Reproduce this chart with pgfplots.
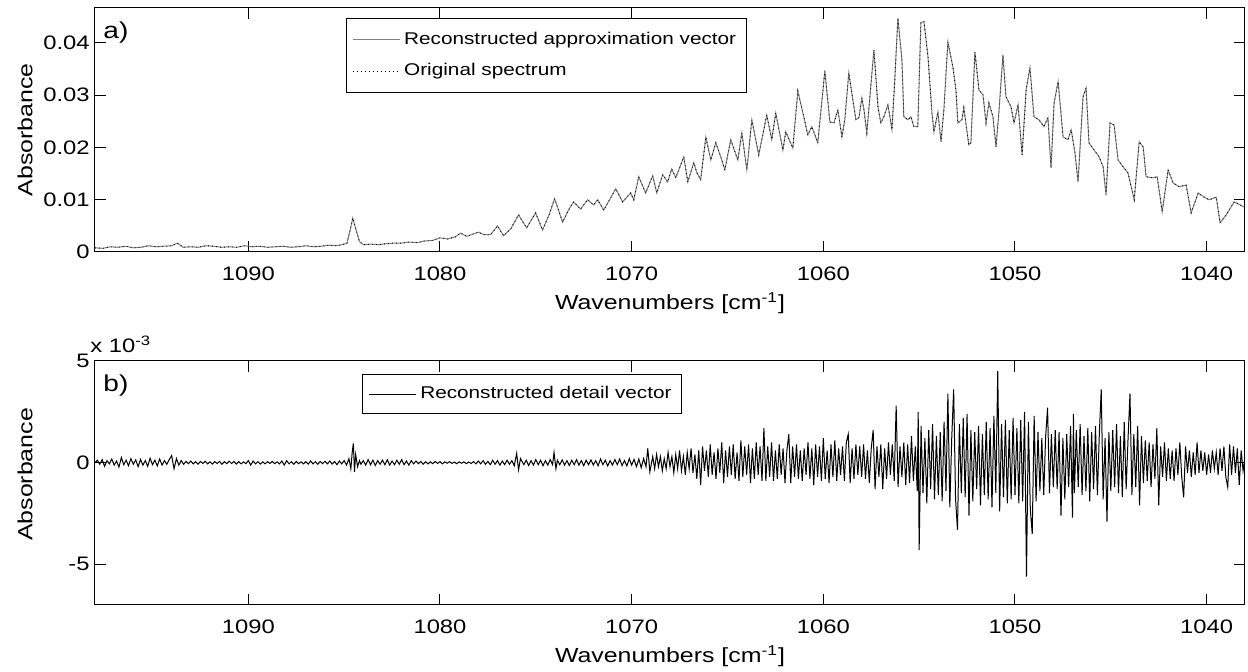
\documentclass[border=0pt]{standalone}
\usepackage{fontspec}
\setmainfont{Liberation Sans}[FakeStretch=1.22]
\usepackage{pgfplots}
\pgfplotsset{compat=1.18}
\usepackage{pgfplotstable}

% absorbance spectrum, read off panel a)
\pgfplotstableread{
w A
1098.0 0.0008
1097.6 0.0007
1097.2 0.0010
1096.8 0.0009
1096.4 0.0011
1096.0 0.0008
1095.6 0.0009
1095.2 0.0012
1094.8 0.0010
1094.4 0.0011
1094.0 0.0012
1093.7 0.0017
1093.4 0.0009
1093.0 0.0010
1092.6 0.0009
1092.2 0.0012
1091.8 0.0011
1091.4 0.0009
1091.0 0.0010
1090.6 0.0009
1090.2 0.0012
1089.8 0.0010
1089.4 0.0011
1089.0 0.0009
1088.6 0.0010
1088.2 0.0011
1087.8 0.0009
1087.4 0.0010
1087.0 0.0012
1086.6 0.0010
1086.2 0.0011
1085.8 0.0013
1085.4 0.0012
1085.1 0.0014
1084.85 0.0017
1084.7 0.0040
1084.55 0.0065
1084.4 0.0045
1084.2 0.0020
1084.0 0.0014
1083.6 0.0015
1083.2 0.0014
1082.8 0.0016
1082.4 0.0017
1082.0 0.0017
1081.6 0.0019
1081.2 0.0018
1080.8 0.0021
1080.4 0.0022
1080.0 0.0027
1079.6 0.0025
1079.2 0.0029
1078.93 0.0036
1078.6 0.0030
1078.3 0.0034
1077.99 0.0038
1077.7 0.0033
1077.36 0.0033
1077.00 0.0050
1076.68 0.0031
1076.3 0.0045
1075.90 0.0071
1075.48 0.0046
1075.01 0.0075
1074.65 0.0042
1074.3 0.0072
1074.02 0.0102
1073.60 0.0057
1073.3 0.0080
1073.03 0.0096
1072.66 0.0082
1072.30 0.0100
1071.98 0.0090
1071.77 0.0100
1071.46 0.0080
1070.83 0.0121
1070.47 0.0096
1070.05 0.0113
1069.89 0.0100
1069.63 0.0144
1069.27 0.0113
1068.90 0.0146
1068.69 0.0113
1068.38 0.0148
1068.12 0.0134
1067.91 0.0159
1067.70 0.0142
1067.28 0.0182
1067.07 0.0134
1066.76 0.0171
1066.61 0.0153
1066.40 0.0138
1066.13 0.0220
1065.87 0.0176
1065.61 0.0209
1065.35 0.0182
1065.14 0.0157
1064.83 0.0215
1064.46 0.0176
1064.25 0.0228
1063.99 0.0157
1063.73 0.0253
1063.37 0.0186
1062.95 0.0262
1062.69 0.0215
1062.48 0.0266
1062.11 0.0195
1061.96 0.0230
1061.59 0.0199
1061.33 0.0308
1061.02 0.0259
1060.81 0.0224
1060.60 0.0240
1060.29 0.0209
1059.92 0.0347
1059.66 0.0249
1059.45 0.0247
1059.24 0.0272
1059.03 0.0220
1058.88 0.0253
1058.67 0.0343
1058.46 0.0291
1058.30 0.0253
1058.14 0.0257
1057.99 0.0295
1057.88 0.0272
1057.73 0.0228
1057.57 0.0297
1057.36 0.0387
1057.15 0.0278
1057.00 0.0247
1056.84 0.0259
1056.63 0.0282
1056.42 0.0234
1056.27 0.0330
1056.11 0.0448
1055.90 0.0368
1055.80 0.0259
1055.59 0.0253
1055.43 0.0259
1055.28 0.0240
1055.07 0.0240
1054.91 0.0439
1054.75 0.0441
1054.54 0.0374
1054.33 0.0266
1054.23 0.0230
1054.02 0.0268
1053.86 0.0211
1053.71 0.0272
1053.50 0.0402
1053.24 0.0354
1053.08 0.0310
1052.98 0.0247
1052.77 0.0253
1052.67 0.0276
1052.41 0.0205
1052.30 0.0209
1052.09 0.0383
1051.88 0.0310
1051.67 0.0301
1051.51 0.0247
1051.36 0.0285
1051.15 0.0259
1050.99 0.0201
1050.83 0.0272
1050.63 0.0377
1050.47 0.0297
1050.21 0.0278
1050.05 0.0247
1049.84 0.0282
1049.63 0.0186
1049.42 0.0310
1049.22 0.0353
1049.01 0.0259
1048.75 0.0253
1048.49 0.0240
1048.28 0.0257
1048.12 0.0161
1047.96 0.0285
1047.75 0.0326
1047.49 0.0220
1047.23 0.0215
1047.07 0.0234
1046.87 0.0190
1046.71 0.0134
1046.45 0.0297
1046.29 0.0314
1046.14 0.0209
1045.87 0.0195
1045.61 0.0182
1045.40 0.0163
1045.25 0.0109
1045.04 0.0247
1044.83 0.0243
1044.62 0.0176
1044.36 0.0163
1044.10 0.0151
1043.78 0.0100
1043.52 0.0211
1043.31 0.0201
1043.16 0.0144
1042.79 0.0142
1042.58 0.0144
1042.32 0.0077
1042.01 0.0157
1041.75 0.0132
1041.43 0.0125
1041.07 0.0128
1040.81 0.0075
1040.44 0.0113
1040.13 0.0105
1039.87 0.0100
1039.50 0.0105
1039.30 0.0056
1038.98 0.0071
1038.56 0.0096
1038.04 0.0086
}\spectrum

% reconstructed detail vector, read off panel b)
\pgfplotstableread{
w D
1098.000 0.0000
1097.875 0.00012
1097.750 -0.00008
1097.625 0.00015
1097.500 -0.00018
1097.375 0.0001
1097.250 -0.00006
1097.125 0.00018
1097.000 -0.00012
1096.875 0.00008
1096.750 -0.00022
1096.625 0.00025
1096.500 -0.0001
1096.375 0.00012
1096.250 -0.00015
1096.125 0.0002
1096.000 -0.00008
1095.875 0.00014
1095.750 -0.0002
1095.625 0.00016
1095.500 -0.00012
1095.375 0.0001
1095.250 -0.00018
1095.125 0.00022
1095.000 -0.0001
1094.875 0.00012
1094.750 -0.00016
1094.625 0.00018
1094.500 -0.00012
1094.375 0.0001
1094.250 -0.00008
1094.125 0.00015
1094.000 0.00035
1093.875 -0.0003
1093.750 0.0002
1093.625 -0.00012
1093.500 0.0001
1093.375 -0.00008
1093.250 0.00006
1093.125 -0.00005
1093.000 0.00008
1092.875 -0.00006
1092.750 0.00005
1092.625 -0.00008
1092.500 0.00006
1092.375 -0.00004
1092.250 0.00007
1092.125 -0.00006
1092.000 0.00004
1091.875 -0.00007
1091.750 0.00005
1091.625 -0.00004
1091.500 0.00006
1091.375 -0.00008
1091.250 0.00005
1091.125 -0.00005
1091.000 0.00007
1090.875 -0.00004
1090.750 0.00006
1090.625 -0.00007
1090.500 0.00005
1090.375 -0.00006
1090.250 0.00004
1090.125 -0.00005
1090.000 0.0001
1089.875 -0.00012
1089.750 0.00008
1089.625 -0.00006
1089.500 0.00005
1089.375 -0.00007
1089.250 0.00004
1089.125 -0.00006
1089.000 0.00005
1088.875 -0.00004
1088.750 0.00006
1088.625 -0.00005
1088.500 0.00004
1088.375 -0.00006
1088.250 0.00008
1088.125 -0.00012
1088.000 0.0001
1087.875 -0.00006
1087.750 0.00005
1087.625 -0.00008
1087.500 0.00006
1087.375 -0.00005
1087.250 0.00004
1087.125 -0.00006
1087.000 0.00005
1086.875 -0.00007
1086.750 0.00008
1086.625 -0.00006
1086.500 0.00005
1086.375 -0.00008
1086.250 0.00006
1086.125 -0.00005
1086.000 0.00007
1085.875 -0.00006
1085.750 0.00008
1085.625 -0.00007
1085.500 0.00006
1085.375 -0.0001
1085.250 0.00008
1085.125 -0.00006
1085.000 0.0001
1084.875 -0.00012
1084.750 0.0002
1084.650 -0.0003
1084.580 0.0005
1084.520 0.00095
1084.460 -0.00045
1084.400 0.0004
1084.300 -0.0002
1084.200 0.0001
1084.125 -0.00008
1084.000 0.0001
1083.875 -0.00012
1083.750 0.00015
1083.625 -0.0001
1083.500 0.00012
1083.375 -0.00014
1083.250 0.0001
1083.125 -0.00008
1083.000 0.00012
1082.875 -0.0001
1082.750 0.00014
1082.625 -0.00012
1082.500 0.00008
1082.375 -0.0001
1082.250 0.00012
1082.125 -0.00008
1082.000 0.00015
1081.875 -0.0001
1081.750 0.00008
1081.625 -0.00012
1081.500 0.0001
1081.375 -0.00006
1081.250 0.00008
1081.125 -0.00005
1081.000 0.00006
1080.875 -0.00008
1080.750 0.00005
1080.625 -0.00006
1080.500 0.00004
1080.375 -0.00005
1080.250 0.00006
1080.125 -0.00004
1080.000 0.00005
1079.875 -0.00006
1079.750 0.00004
1079.625 -0.00003
1079.500 0.00005
1079.375 -0.00004
1079.250 0.00003
1079.125 -0.00005
1079.000 0.00004
1078.875 -0.00003
1078.750 0.00004
1078.625 -0.00005
1078.500 0.00003
1078.375 -0.00004
1078.250 0.00005
1078.125 -0.00006
1078.000 0.00008
1077.875 -0.00006
1077.750 0.0001
1077.625 -0.00008
1077.500 0.00006
1077.375 -0.0001
1077.250 0.00012
1077.125 -0.00008
1077.000 0.0001
1076.875 -0.00012
1076.750 0.00008
1076.625 -0.0001
1076.500 0.00012
1076.375 -0.00008
1076.250 0.0001
1076.125 -0.00015
1076.000 0.00045
1075.900 -0.00035
1075.800 0.0002
1075.625 -0.0001
1075.500 0.00012
1075.375 -0.00014
1075.250 0.0001
1075.125 -0.00012
1075.000 0.00015
1074.875 -0.0001
1074.750 0.00012
1074.625 -0.00015
1074.500 0.0001
1074.375 -0.00012
1074.250 0.00015
1074.125 -0.0001
1074.050 0.0005
1073.950 -0.0003
1073.875 0.00012
1073.750 -0.0001
1073.625 0.00014
1073.500 -0.00012
1073.375 0.0001
1073.250 -0.00014
1073.125 0.00012
1073.000 -0.0001
1072.875 0.00015
1072.750 -0.00012
1072.625 0.0001
1072.500 -0.00015
1072.375 0.00012
1072.250 -0.0001
1072.125 0.00014
1072.000 -0.00012
1071.875 0.0001
1071.750 -0.00015
1071.625 0.00018
1071.500 -0.0001
1071.375 0.00012
1071.250 -0.00016
1071.125 0.0001
1071.000 -0.00012
1070.875 0.00015
1070.750 -0.0001
1070.625 0.00018
1070.500 -0.00014
1070.375 0.0001
1070.250 -0.00016
1070.125 0.0002
1070.000 -0.00012
1069.875 0.00016
1069.750 -0.0002
1069.625 0.00018
1069.500 -0.00025
1069.375 0.0002
1069.250 -0.0002
1069.160 0.0007
1069.050 -0.00045
1068.900 0.0003
1068.8 -0.0003
1068.7 0.0004
1068.6 -0.0002
1068.5 0.0003
1068.4 -0.0004
1068.3 0.0002
1068.2 -0.0003
1068.1 0.0005
1068.0 -0.0002
1067.9 0.0003
1067.8 -0.0005
1067.7 0.0004
1067.6 -0.0003
1067.5 0.0006
1067.4 -0.0004
1067.3 0.0003
1067.2 -0.0006
1067.1 0.0005
1067.0 -0.0003
1066.9 0.0007
1066.8 -0.0005
1066.7 0.0004
1066.6 -0.0008
1066.5 0.0006
1066.4 -0.0011
1066.3 0.0008
1066.2 -0.0004
1066.1 0.0006
1066.0 -0.0007
1065.9 0.0009
1065.8 -0.0006
1065.7 0.0005
1065.6 -0.0008
1065.5 0.0007
1065.4 -0.0005
1065.3 0.0010
1065.2 -0.0010
1065.1 0.0006
1065.0 -0.0007
1064.9 0.0008
1064.8 -0.0006
1064.7 0.0009
1064.6 -0.0008
1064.5 0.0005
1064.4 -0.0009
1064.3 0.0011
1064.2 -0.0007
1064.1 0.0008
1064.0 -0.0006
1063.9 0.0009
1063.8 -0.0010
1063.7 0.0007
1063.6 -0.0008
1063.5 0.0010
1063.4 -0.0006
1063.3 0.0008
1063.2 -0.0009
1063.1 0.0017
1063.0 -0.0009
1062.9 0.0008
1062.8 -0.0007
1062.7 0.0010
1062.6 -0.0009
1062.5 0.0006
1062.4 -0.0008
1062.3 0.0009
1062.2 -0.0006
1062.1 0.0007
1062.0 -0.0010
1061.9 0.0006
1061.8 0.0014
1061.7 -0.0010
1061.6 0.0008
1061.5 -0.0007
1061.4 0.0009
1061.3 -0.0008
1061.2 0.0006
1061.1 -0.0009
1061.0 0.0007
1060.9 -0.0006
1060.8 0.0010
1060.7 -0.0008
1060.6 0.0007
1060.5 -0.0011
1060.4 0.0009
1060.3 -0.0007
1060.2 0.0008
1060.1 -0.0009
1060.0 0.0012
1059.9 -0.0008
1059.8 0.0006
1059.7 -0.0010
1059.6 0.0009
1059.5 -0.0007
1059.4 0.0011
1059.3 -0.0009
1059.2 0.0007
1059.1 -0.0006
1059.0 0.0008
1058.9 -0.0009
1058.8 0.0010
1058.7 0.0014
1058.6 -0.0010
1058.5 0.0007
1058.4 -0.0008
1058.3 0.0009
1058.2 -0.0006
1058.1 0.0008
1058.0 -0.0007
1057.9 0.0009
1057.8 -0.0008
1057.7 0.0006
1057.6 -0.0010
1057.5 0.0007
1057.4 0.0016
1057.3 -0.0013
1057.2 0.0008
1057.1 -0.0007
1057.0 0.0009
1056.9 -0.0013
1056.8 0.0007
1056.7 -0.0008
1056.6 0.0010
1056.5 -0.0006
1056.4 0.0009
1056.3 -0.0009
1056.2 0.0028
1056.1 -0.0012
1056.0 0.0008
1055.9 -0.0007
1055.8 0.0010
1055.7 -0.0011
1055.6 0.0009
1055.5 -0.0010
1055.4 0.0013
1055.3 -0.0009
1055.2 0.0008
1055.1 -0.0014
1055.05 0.0025
1055.0 -0.0043
1054.9 0.0018
1054.8 -0.0015
1054.7 0.0012
1054.6 -0.0020
1054.5 0.0016
1054.4 -0.0013
1054.3 0.0019
1054.2 -0.0018
1054.1 0.0013
1054.0 -0.0016
1053.9 0.0015
1053.8 -0.0019
1053.7 0.0020
1053.6 -0.0014
1053.5 0.0034
1053.4 -0.0022
1053.3 0.0012
1053.2 0.0036
1053.1 -0.0018
1053.0 -0.0033
1052.9 0.0019
1052.8 -0.0015
1052.7 0.0022
1052.6 -0.0017
1052.5 0.0024
1052.4 -0.0026
1052.3 0.0016
1052.2 -0.0019
1052.1 0.0015
1052.0 -0.0013
1051.9 0.0018
1051.8 -0.0021
1051.7 0.0014
1051.6 -0.0016
1051.5 0.0020
1051.4 -0.0018
1051.3 0.0017
1051.2 -0.0022
1051.1 0.0023
1051.0 -0.0015
1050.9 0.0045
1050.8 -0.0024
1050.7 0.0019
1050.6 -0.0017
1050.5 0.0021
1050.4 -0.0020
1050.3 0.0016
1050.2 -0.0018
1050.1 0.0022
1050.0 -0.0016
1049.9 0.0017
1049.8 -0.0020
1049.7 0.0021
1049.6 -0.0019
1049.5 0.0025
1049.4 -0.0056
1049.3 0.0020
1049.2 -0.0023
1049.1 -0.0035
1049.0 0.0023
1048.9 -0.0019
1048.8 0.0015
1048.7 -0.0014
1048.6 0.0012
1048.5 -0.0016
1048.4 0.0013
1048.3 0.0027
1048.2 -0.0015
1048.1 0.0014
1048.0 -0.0012
1047.9 0.0016
1047.8 -0.0013
1047.7 0.0015
1047.6 -0.0026
1047.5 0.0012
1047.4 -0.0018
1047.3 0.0014
1047.2 -0.0012
1047.1 0.0018
1047.0 -0.0027
1046.95 0.0024
1046.9 -0.0015
1046.8 0.0016
1046.7 -0.0012
1046.6 0.0019
1046.5 -0.0016
1046.4 0.0013
1046.3 -0.0014
1046.2 0.0017
1046.1 -0.0019
1046.0 0.0015
1045.9 -0.0013
1045.8 0.0018
1045.7 -0.0016
1045.6 0.0014
1045.5 0.0036
1045.4 -0.0018
1045.3 0.0012
1045.2 -0.0029
1045.1 0.0015
1045.0 -0.0014
1044.9 0.0016
1044.8 -0.0012
1044.7 0.0019
1044.6 -0.0015
1044.5 0.0013
1044.4 -0.0017
1044.3 0.0020
1044.2 -0.0013
1044.1 0.0012
1044.0 0.0034
1043.9 -0.0016
1043.8 0.0014
1043.7 -0.0012
1043.6 0.0018
1043.5 -0.0021
1043.4 0.0013
1043.3 -0.0010
1043.2 0.0011
1043.1 -0.0009
1043.0 0.0010
1042.9 -0.0012
1042.8 0.0009
1042.7 -0.0008
1042.6 0.0017
1042.5 -0.0021
1042.4 0.0008
1042.3 -0.0007
1042.2 0.0010
1042.1 -0.0009
1042.0 0.0007
1041.9 -0.0008
1041.8 0.0006
1041.7 -0.0009
1041.6 0.0007
1041.5 -0.0006
1041.4 0.0010
1041.3 -0.0007
1041.2 -0.0017
1041.1 0.0008
1041.0 -0.0005
1040.9 0.0006
1040.8 -0.0007
1040.7 0.0005
1040.6 -0.0006
1040.5 0.0010
1040.4 -0.0005
1040.3 0.0006
1040.2 -0.0004
1040.1 0.0005
1040.0 -0.0006
1039.9 0.0004
1039.8 -0.0005
1039.7 0.0006
1039.6 -0.0003
1039.5 0.0005
1039.4 -0.0006
1039.3 0.0007
1039.2 -0.0004
1039.1 0.0008
1039.0 -0.0007
1038.9 -0.0012
1038.8 0.0009
1038.7 -0.0006
1038.6 0.0008
1038.5 -0.0005
1038.4 0.0007
1038.3 -0.0011
1038.2 0.0006
1038.1 -0.0004
1038.0 0.0003
}\detail

\definecolor{approxgray}{rgb}{0.5,0.5,0.5}
\newcommand{\labelfont}{\fontsize{10.2pt}{12pt}\selectfont}
\newcommand{\legendfont}{\fontsize{8.5pt}{10pt}\selectfont}
\newcommand{\panelfont}{\fontsize{11.5pt}{13pt}\selectfont}

\pgfplotsset{
  panel/.style={
    scale only axis, width=575pt, height=122pt,
    x dir=reverse, xmin=1038, xmax=1098,
    xtick={1040,1050,1060,1070,1080,1090},
    tick align=inside, major tick length=5.5pt,
    axis line style={line width=0.5pt},
    every tick/.style={black, line width=0.5pt},
    /pgf/number format/assume math mode=true,
    /pgf/number format/set thousands separator={},
    xticklabel style={anchor=base, inner sep=0pt, yshift=-14.5pt},
    yticklabel style={anchor=east, inner sep=0pt, xshift=-2.5pt},
    xlabel={Wavenumbers [cm\textsuperscript{-1}]},
    xlabel style={at={(rel axis cs:0.5,0)}, anchor=base, inner sep=0pt, yshift=-29pt, font=\labelfont},
    ylabel={Absorbance},
    legend cell align=left,
    legend image code/.code={\draw[##1] (0pt,0pt) -- (23.5pt,0pt);},
  },
}

\begin{document}
\begin{tikzpicture}[font=\fontsize{9.75pt}{11.5pt}\selectfont]
\useasboundingbox (-47.5pt,-210pt) rectangle (576.5pt,126pt);

\begin{axis}[panel,
  ymin=0, ymax=0.0467,
  ytick={0,0.01,0.02,0.03,0.04},
  scaled y ticks=false,
  yticklabel style={/pgf/number format/fixed, /pgf/number format/precision=2},
  ylabel style={at={(rel axis cs:-0.0539,0.5)}, anchor=south, inner sep=0pt, font=\labelfont},
  legend style={at={(rel axis cs:0.218,0.959)}, anchor=north west,
    draw=black, line width=0.5pt, fill=white, inner xsep=3pt, inner ysep=4.75pt,
    nodes={inner sep=2pt}, row sep=4pt, font=\legendfont},
]
\addplot[approxgray, line width=0.5pt] table[x=w, y=A] {\spectrum};
\addlegendentry{Reconstructed approximation vector}
\addplot[black, line width=0.45pt, dash pattern=on 0.4pt off 1.6pt] table[x=w, y=A] {\spectrum};
\addlegendentry{Original spectrum}
\node[anchor=north west, inner sep=0pt, font=\panelfont] at (rel axis cs:0.007,0.945) {a)};
\end{axis}

\begin{axis}[panel, at={(0pt,-176.5pt)},
  ymin=-0.007, ymax=0.005,
  ytick={-0.005,0,0.005},
  scaled y ticks=base 10:3,
  ytick scale label code/.code={x 10\textsuperscript{#1}},
  every y tick scale label/.style={at={(rel axis cs:0,1)}, anchor=south west, inner sep=0pt, yshift=4pt},
  ylabel style={at={(rel axis cs:-0.0539,0.535)}, anchor=south, inner sep=0pt, font=\labelfont},
  legend style={at={(rel axis cs:0.232,0.947)}, anchor=north west,
    draw=black, line width=0.5pt, fill=white, inner xsep=3pt, inner ysep=4pt,
    nodes={inner sep=2pt}, font=\legendfont},
]
\addplot[black, line width=0.5pt] table[x=w, y=D] {\detail};
\addlegendentry{Reconstructed detail vector}
\node[anchor=north west, inner sep=0pt, font=\panelfont] at (rel axis cs:0.007,0.945) {b)};
\end{axis}
\end{tikzpicture}
\end{document}
